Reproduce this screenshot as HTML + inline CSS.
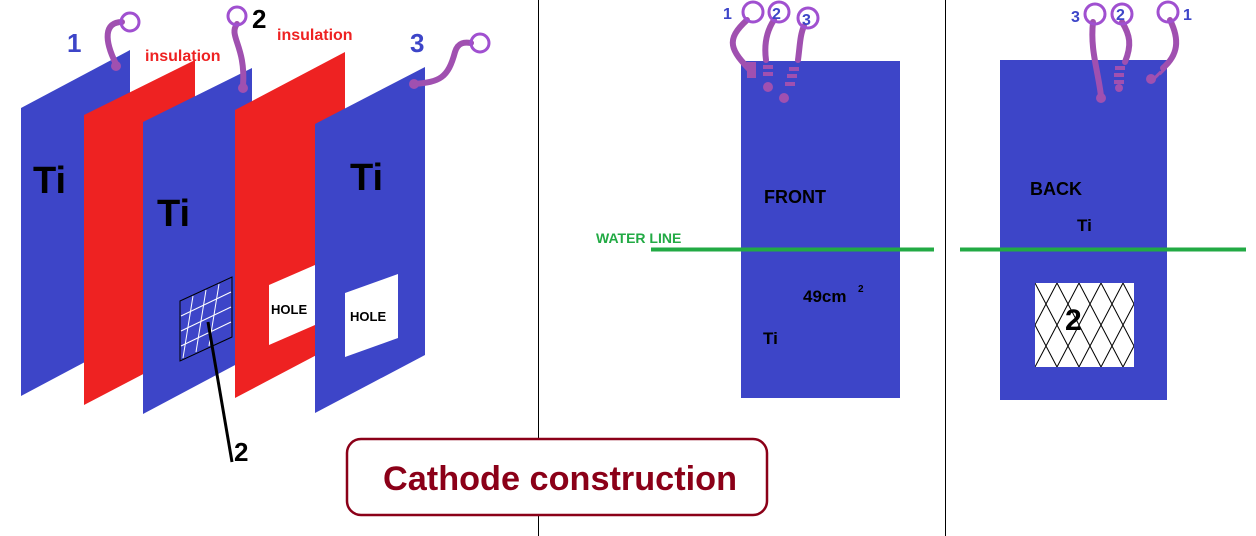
<!DOCTYPE html>
<html><head><meta charset="utf-8"><style>
html,body{margin:0;padding:0;background:#fff;width:1256px;height:536px;overflow:hidden}
svg{display:block}
text{font-family:"Liberation Sans",sans-serif;font-weight:bold}
</style></head><body>
<svg width="1256" height="536" viewBox="0 0 1256 536" xmlns="http://www.w3.org/2000/svg">
<defs>
<pattern id="hx" width="22" height="42" patternUnits="userSpaceOnUse" x="1035" y="283">
<path d="M0,0 L22,42 M22,0 L0,42 M-11,-21 L11,21 M11,21 L33,63 M33,-21 L11,21 M11,21 L-11,63" stroke="#000" stroke-width="1" fill="none"/>
</pattern>
</defs>
<line x1="538.5" y1="0" x2="538.5" y2="536" stroke="#000" stroke-width="1"/>
<line x1="945.5" y1="0" x2="945.5" y2="536" stroke="#000" stroke-width="1"/>

<!-- left plates -->
<polygon points="21,108 130,50 130,338 21,396" fill="#3d45c8"/>
<polygon points="84,115 195,60 195,347 84,405" fill="#ee2222"/>
<polygon points="143,122 252,68 252,356 143,414" fill="#3d45c8"/>
<polygon points="235,110 345,52 345,340 235,398" fill="#ee2222"/>
<polygon points="269,285 315,265 315,325 269,345" fill="#fff"/>
<polygon points="315,124 425,67 425,355 315,413" fill="#3d45c8"/>
<polygon points="345,293 398,274 398,338 345,357" fill="#fff"/>

<polygon points="180,301 232,277 232,337 180,361" fill="none" stroke="#000" stroke-width="1"/>
<g stroke="#fff" stroke-width="1">
<line x1="181" y1="316" x2="231" y2="292"/>
<line x1="181" y1="331" x2="231" y2="307"/>
<line x1="181" y1="346" x2="231" y2="322"/>
<line x1="193" y1="296" x2="183" y2="358"/>
<line x1="206" y1="290" x2="196" y2="352"/>
<line x1="219" y1="284" x2="209" y2="346"/>
</g>
<line x1="208" y1="322" x2="232" y2="462" stroke="#000" stroke-width="3"/>
<text x="234" y="461" font-size="26" fill="#000">2</text>

<text x="33" y="193" font-size="38" fill="#000">Ti</text>
<text x="157" y="226" font-size="38" fill="#000">Ti</text>
<text x="350" y="190" font-size="38" fill="#000">Ti</text>
<text x="271" y="314" font-size="13" fill="#000">HOLE</text>
<text x="350" y="321" font-size="13" fill="#000">HOLE</text>

<text x="67" y="52" font-size="26" fill="#3d45c8">1</text>
<text x="145" y="61" font-size="16" fill="#ee2222">insulation</text>
<text x="252" y="28" font-size="26" fill="#000">2</text>
<text x="277" y="40" font-size="16" fill="#ee2222">insulation</text>
<text x="410" y="52" font-size="26" fill="#3d45c8">3</text>

<!-- right panels -->
<rect x="741" y="61" width="159" height="337" fill="#3d45c8"/>
<rect x="1000" y="60" width="167" height="340" fill="#3d45c8"/>

<!-- wires -->
<g fill="none" stroke="#a050b0" stroke-width="6" stroke-linecap="round">
<path d="M116,64 C104,40 104,22 122,22"/>
<path d="M237,24 C228,36 246,46 243,86"/>
<path d="M414,84 C440,82 448,78 455,52 C458,42 465,42 471,43"/>
<path d="M752,72 C730,50 725,40 747,20"/>
<path d="M766,60 C764,45 766,32 774,20"/>
<path d="M798,60 C800,45 800,35 804,26"/>
<path d="M1101,96 C1098,70 1090,50 1093,22"/>
<path d="M1125,62 C1132,45 1130,35 1122,22"/>
<path d="M1163,68 C1178,55 1180,40 1170,20"/>
</g>
<g fill="#a050b0">
<circle cx="116" cy="66" r="5"/><circle cx="243" cy="88" r="5"/><circle cx="414" cy="84" r="5"/>
<rect x="747" y="62" width="9" height="16"/>
<rect x="763" y="65" width="10" height="4"/><rect x="763" y="72" width="10" height="4"/>
<circle cx="768" cy="87" r="5"/>
<rect x="789" y="67" width="10" height="4"/><rect x="787" y="74" width="10" height="4"/><rect x="785" y="82" width="10" height="4"/>
<circle cx="784" cy="98" r="5"/>
<circle cx="1101" cy="98" r="5"/>
<rect x="1115" y="66" width="10" height="4"/><rect x="1114" y="73" width="10" height="4"/><rect x="1114" y="80" width="10" height="4"/>
<circle cx="1119" cy="88" r="4"/>
<rect x="1156" y="70" width="3" height="9" transform="rotate(45 1157 75)"/>
<rect x="1161" y="66" width="3" height="9" transform="rotate(45 1162 71)"/>
<circle cx="1151" cy="79" r="5"/>
</g>
<g fill="none" stroke="#a050d0" stroke-width="3">
<circle cx="130" cy="22" r="9"/><circle cx="237" cy="16" r="9"/><circle cx="480" cy="43" r="9"/>
<circle cx="753" cy="12" r="10"/><circle cx="779" cy="12" r="10"/><circle cx="808" cy="18" r="10"/>
<circle cx="1095" cy="14" r="10"/><circle cx="1122" cy="14" r="10"/><circle cx="1168" cy="12" r="10"/>
</g>
<text x="723" y="19" font-size="16" fill="#3d45c8">1</text>
<text x="772" y="19" font-size="16" fill="#3d45c8">2</text>
<text x="802" y="25" font-size="16" fill="#3d45c8">3</text>
<text x="1071" y="22" font-size="16" fill="#3d45c8">3</text>
<text x="1116" y="20" font-size="16" fill="#3d45c8">2</text>
<text x="1183" y="20" font-size="16" fill="#3d45c8">1</text>

<text x="764" y="203" font-size="18" fill="#000">FRONT</text>
<text x="803" y="302" font-size="17" fill="#000">49cm</text>
<text x="858" y="292" font-size="10" fill="#000">2</text>
<text x="763" y="344" font-size="17" fill="#000">Ti</text>

<text x="1030" y="195" font-size="18" fill="#000">BACK</text>
<text x="1077" y="231" font-size="17" fill="#000">Ti</text>
<rect x="1035" y="283" width="99" height="84" fill="#fff"/>
<rect x="1035" y="283" width="99" height="84" fill="url(#hx)"/>
<text x="1065" y="330" font-size="30" fill="#000">2</text>

<line x1="651" y1="249.5" x2="934" y2="249.5" stroke="#22aa44" stroke-width="4"/>
<line x1="960" y1="249.5" x2="1246" y2="249.5" stroke="#22aa44" stroke-width="4"/>
<text x="596" y="243" font-size="14" fill="#22aa44">WATER LINE</text>

<rect x="347" y="439" width="420" height="76" rx="14" fill="#fff" stroke="#8b0018" stroke-width="2.5"/>
<text x="383" y="490" font-size="34" fill="#8b0018" textLength="354" lengthAdjust="spacingAndGlyphs">Cathode construction</text>
</svg>
</body></html>
